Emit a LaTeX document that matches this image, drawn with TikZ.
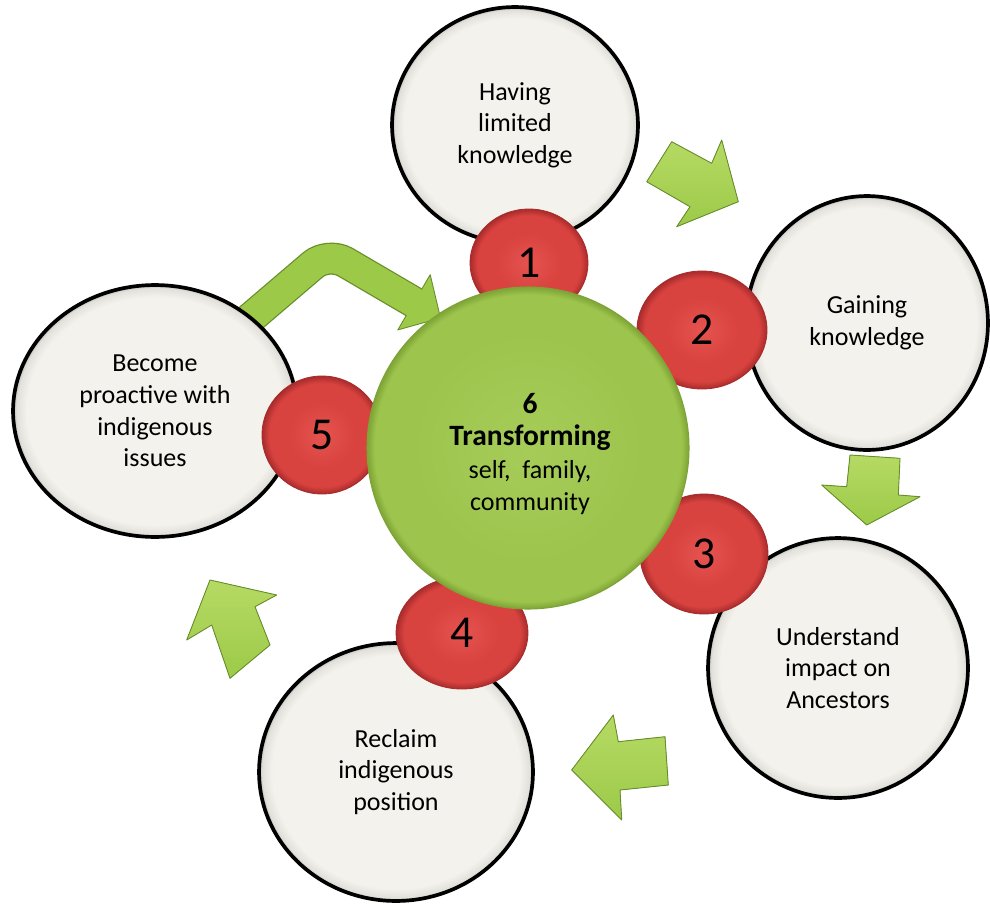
\documentclass[tikz,border=0pt]{standalone}
\usepackage{fontspec}
\setmainfont{Carlito}
\usetikzlibrary{shapes.geometric}
\definecolor{cream}{RGB}{244,242,236}
\definecolor{creamedge}{RGB}{226,224,218}
\definecolor{creamrim}{RGB}{185,184,180}
\definecolor{redA}{RGB}{230,84,80}
\definecolor{redB}{RGB}{216,66,63}
\definecolor{redC}{RGB}{168,44,44}
\definecolor{hubA}{RGB}{166,204,88}
\definecolor{hubB}{RGB}{157,197,77}
\definecolor{hubC}{RGB}{126,164,54}
\definecolor{arrowlight}{RGB}{182,218,100}
\definecolor{arrowmid}{RGB}{156,202,72}
\definecolor{arrowedge}{RGB}{104,142,42}
\pgfdeclareradialshading{creamball}{\pgfpoint{0bp}{0bp}}{color(0bp)=(cream); color(22.6bp)=(cream); color(24.4bp)=(creamedge); color(25bp)=(creamrim); color(50bp)=(creamrim)}
\pgfdeclareradialshading{redball}{\pgfpoint{0bp}{0bp}}{color(0bp)=(redA); color(14bp)=(redB); color(22bp)=(redB); color(25bp)=(redC); color(50bp)=(redC)}
\pgfdeclareradialshading{hubball}{\pgfpoint{0bp}{0bp}}{color(0bp)=(hubA); color(18bp)=(hubB); color(23.8bp)=(hubB); color(25bp)=(hubC); color(50bp)=(hubC)}
\tikzset{
  ellsize/.style 2 args={minimum width=#1*0.04cm, minimum height=#2*0.04cm},
  outer/.style={ellipse, draw=black, line width=2.1pt, shade, shading=creamball, align=center, inner sep=0pt, font=\fontsize{14.8}{18}\selectfont},
  badge/.style={ellipse, draw=redC, line width=0.5pt, shade, shading=redball, inner sep=0pt, font=\fontsize{26}{30}\selectfont},
  hub/.style={circle, draw=hubC, line width=0.6pt, shade, shading=hubball, align=center, inner sep=0pt, font=\fontsize{14.8}{18.5}\selectfont},
  blockarrow/.style={draw=arrowedge, line width=0.5pt, line join=round, top color=arrowlight, bottom color=arrowmid},
  headfill/.style={fill=arrowmid, draw=arrowedge, line width=0.5pt, line join=round},
}
\begin{document}
\begin{tikzpicture}[x=0.02cm, y=-0.02cm]
\useasboundingbox (0,0) rectangle (990,903);
\fill[white] (0,0) rectangle (990,903);

% straight block arrows
\filldraw[blockarrow] (671.7,141.7) -- (711.7,163.3) -- (721.7,140) -- (738.3,201.7) -- (676.7,226.7) -- (690,206.7) -- (646.7,181.7) -- cycle;
\filldraw[blockarrow] (850,455) -- (900,458.3) -- (898.3,495) -- (920,496.7) -- (866.7,525) -- (821.7,485) -- (846.7,486.7) -- cycle;
\filldraw[blockarrow] (571.7,770) -- (613.3,715) -- (618.3,741.7) -- (665,736.7) -- (668.3,785) -- (620,790) -- (621.7,820) -- cycle;
\filldraw[blockarrow] (210,580) -- (276.7,595) -- (255,606.7) -- (270,645) -- (230,678.3) -- (211.7,625) -- (186.7,640) -- cycle;

% bent arrow from circle 5 to the hub
\coordinate (ca0) at (246,322);
\coordinate (ca1) at (328,252);
\coordinate (ca2) at (414,302.3);
\coordinate (ca2b) at (418,304.6);
\coordinate (hb1) at (430.2,274.7);
\coordinate (hb2) at (397.8,329.9);
\coordinate (htip) at (440.5,318);
\filldraw[headfill] (hb1) -- (htip) -- (hb2) -- cycle;
\draw[arrowedge, line width=0.64cm, rounded corners=0.4cm] (ca0) -- (ca1) -- (ca2);
\draw[arrowmid, line width=0.59cm, rounded corners=0.4cm] (ca0) -- (ca1) -- (ca2b);

% outer circles
\node[outer, ellsize={123}{118}] (c1) at (515,125) {Having\\limited\\knowledge};
\node[outer, ellsize={121}{127}] (c2) at (867,323) {Gaining\\knowledge};
\node[outer, ellsize={130}{130}] (c3) at (838,668) {Understand\\impact on\\Ancestors};
\node[outer, ellsize={137}{129}] (c4) at (396,772) {Reclaim\\indigenous\\position};
\node[outer, ellsize={142}{126}] (c5) at (155,411) {Become\\proactive with\\indigenous\\issues};

% red badges
\node[badge, ellsize={59}{54}] (r1) at (529,263) {1};
\node[badge, ellsize={65}{59}] (r2) at (702,330) {2};
\node[badge, ellsize={64}{60}] (r3) at (704,554) {3};
\node[badge, ellsize={66}{56}] (r4) at (462,633) {4};
\node[badge, ellsize={60}{59}] (r5) at (322,435) {5};

% hub
\node[hub, minimum size=322*0.02cm] (hub) at (528,448) {};
\node[align=center, font=\fontsize{14.8}{18.5}\selectfont] (hubtext) at (530,454) {{\fontsize{16.8}{18.5}\selectfont\bfseries 6}\\{\fontsize{16.8}{20}\selectfont\bfseries Transforming}\\self,~ family,\\community};
\end{tikzpicture}
\end{document}
